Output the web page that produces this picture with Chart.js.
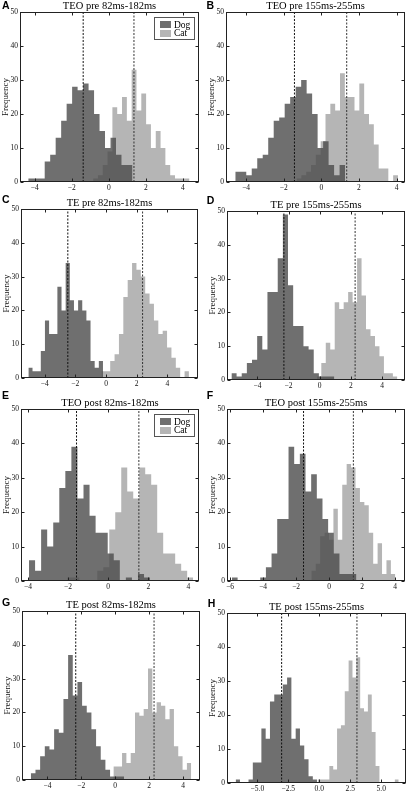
<!DOCTYPE html>
<html>
<head>
<meta charset="utf-8">
<script src="https://cdn.jsdelivr.net/npm/chart.js@4.4.1/dist/chart.umd.min.js"></script>
<style>
  body { margin: 0; background: #fff; width: 410px; height: 793px; position: relative; overflow: hidden; }
  canvas { position: absolute; }
  .letter { position: absolute; font: bold 10.5px "Liberation Sans", Arial, sans-serif; line-height: 10.5px; color: #000; }
  .legend { position: absolute; width: 39px; height: 21px; border: 1px solid #555; background: #fff;
            font: 9.5px "Liberation Serif", "DejaVu Serif", serif; color: #000; }
  .legend .sw { position: absolute; left: 5px; width: 11px; height: 7px; }
  .legend .lb { position: absolute; left: 19px; line-height: 10px; }
</style>
</head>
<body>
<script>
// Panel titles and letters
const titles = ['TEO pre 82ms-182ms', 'TEO pre 155ms-255ms', 'TE pre 82ms-182ms', 'TE pre 155ms-255ms',
                'TEO post 82ms-182ms', 'TEO post 155ms-255ms', 'TE post 82ms-182ms', 'TE post 155ms-255ms'];
const letters = ['A', 'B', 'C', 'D', 'E', 'F', 'G', 'H'];
const seriesNames = ['Dog', 'Cat'];

// Histogram counts per panel
const dogA = [1, 1, 1, 6, 8, 13, 18, 23, 28, 27, 29, 27, 20, 15, 10, 13, 8, 5, 5];
const catA = [1, 2, 5, 9, 22, 20, 25, 18, 33, 21, 26, 17, 10, 15, 10, 5, 2, 1, 1, 1];
const dogB = [3, 3, 2, 4, 7, 8, 13, 18, 19, 23, 25, 28, 30, 26, 20, 10, 12, 5, 2, 5];
const catB = [1, 2, 3, 5, 8, 12, 20, 23, 21, 32, 25, 25, 21, 29, 20, 17, 11, 4, 4, 0, 2];
const dogC = [3, 2, 2, 8, 17, 13, 13, 27, 20, 34, 23, 20, 23, 20, 17, 5, 3, 5];
const catC = [2, 2, 5, 7, 13, 24, 29, 34, 32, 30, 25, 22, 17, 13, 14, 9, 6, 3, 0, 2];
const dogD = [2, 1, 2, 5, 6, 13, 9, 26, 26, 36, 49, 28, 16, 16, 10, 9, 2, 1, 1, 1];
const catD = [1, 5, 11, 9, 23, 21, 23, 26, 23, 36, 25, 15, 13, 10, 7, 2, 2, 1];
const dogE = [6, 3, 15, 10, 17, 27, 32, 39, 24, 28, 19, 14, 14, 8, 6, 0, 1, 0, 2, 1];
const catE = [1, 1, 0, 0, 0, 3, 4, 15, 20, 33, 26, 24, 33, 31, 28, 14, 8, 8, 5, 3, 1];
const dogF = [1, 0, 0, 0, 0, 1, 4, 8, 18, 18, 39, 34, 37, 26, 31, 24, 18, 14, 8, 2, 2, 2];
const catF = [3, 5, 13, 14, 12, 21, 12, 28, 34, 33, 27, 23, 22, 14, 5, 11, 2, 6, 2];
const dogG = [2, 3, 7, 10, 9, 15, 14, 24, 37, 25, 29, 22, 20, 15, 10, 6, 3, 1, 1, 1];
const catG = [4, 4, 8, 5, 8, 20, 19, 21, 33, 20, 23, 22, 18, 21, 10, 7, 3, 5];
const dogH = [1, 0, 0, 1, 6, 6, 16, 13, 24, 26, 26, 29, 31, 13, 16, 11, 7, 2, 1];
const catH = [1, 1, 1, 5, 4, 16, 17, 27, 36, 31, 37, 22, 21, 26, 15, 5, 0, 0, 0, 0, 1];

const dogCounts = [dogA, dogB, dogC, dogD, dogE, dogF, dogG, dogH];
const catCounts = [catA, catB, catC, catD, catE, catF, catG, catH];

// Bin definitions (first edge, bin width) per panel
const dogStart = [-4.345, -4.577, -5.06, -5.665, -3.95, -5.89, -4.98, -6.75];
const dogWidth = [0.296, 0.292, 0.27, 0.33, 0.302, 0.343, 0.275, 0.346];
const catStart = [-0.844, -1.32, -0.30, -0.187, -2.04, -1.08, -0.108, -0.12];
const catWidth = [0.26, 0.257, 0.285, 0.287, 0.299, 0.268, 0.255, 0.311];

// Mean lines
const dogMean = [-1.38, -1.43, -2.49, -2.30, -1.58, -1.55, -2.33, -3.04];
const catMean = [1.36, 1.35, 2.38, 2.27, 1.53, 1.47, 2.29, 3.04];

// Axis ranges and ticks
const xMin = [-4.79, -5.07, -5.54, -5.95, -4.35, -6.19, -5.5, -7.45];
const xMax = [4.87, 4.45, 5.99, 5.47, 4.53, 4.6, 5.0, 7.0];
const xStep = [2, 2, 2, 2, 2, 2, 2, 2.5];
const yMax = 50;
const yStep = 10;

// Layout: plot area [left, top, right, bottom] in page pixels
const plotBoxes = [
  [20, 12, 199, 182], [226, 12, 405, 182],
  [21, 209, 198, 378], [227, 211, 405, 380],
  [21, 409, 199, 581], [227, 409, 405, 581],
  [22, 611, 200, 780], [227, 613, 406, 783]
];
const letterPos = [[2, 0.3], [206.5, 0.3], [2, 194], [206.7, 194.6], [2, 389.6], [206.7, 389.6], [2, 596.6], [207.7, 597.6]];
const legendPanels = [0, 4];

const dogColor = 'rgba(75, 75, 75, 0.8)';
const catColor = 'rgb(181, 181, 181)';
const serif = '"Liberation Serif", "DejaVu Serif", serif';

function histPoints(counts, start, width) {
  const pts = counts.map((c, i) => ({ x: start + i * width, y: c }));
  pts.push({ x: start + counts.length * width, y: counts[counts.length - 1] });
  return pts;
}

function minusSign(s) {
  return s.replace('-', '\u2212');
}

// Box frame with inward ticks, like the original figure
const framePlugin = {
  id: 'frame',
  afterDraw(chart) {
    const ctx = chart.ctx;
    const a = chart.chartArea;
    const l = Math.round(a.left) + 0.5, r = Math.round(a.right) - 0.5;
    const t = Math.round(a.top) + 0.5, b = Math.round(a.bottom) - 0.5;
    ctx.save();
    ctx.strokeStyle = '#222';
    ctx.lineWidth = 1;
    ctx.strokeRect(l, t, r - l, b - t);
    ctx.beginPath();
    chart.scales.x.ticks.forEach(tk => {
      const px = Math.round(chart.scales.x.getPixelForValue(tk.value)) + 0.5;
      ctx.moveTo(px, b); ctx.lineTo(px, b - 3);
      ctx.moveTo(px, t); ctx.lineTo(px, t + 3);
    });
    chart.scales.y.ticks.forEach(tk => {
      const py = Math.round(chart.scales.y.getPixelForValue(tk.value)) + 0.5;
      ctx.moveTo(l, py); ctx.lineTo(l + 3, py);
      ctx.moveTo(r, py); ctx.lineTo(r - 3, py);
    });
    ctx.stroke();
    ctx.restore();
  }
};

function buildPanel(i) {
  const [L, T, R, B] = plotBoxes[i];
  const canvas = document.createElement('canvas');
  const w = (R - L) + 24;
  const h = (B - T) + 13 + 12;
  canvas.width = w;
  canvas.height = h;
  canvas.style.left = (L - 21) + 'px';
  canvas.style.top = (T - 13) + 'px';
  canvas.style.width = w + 'px';
  canvas.style.height = h + 'px';
  document.body.appendChild(canvas);

  new Chart(canvas.getContext('2d'), {
    type: 'line',
    data: {
      datasets: [{
        label: 'Dog mean',
        data: [{ x: dogMean[i], y: 0 }, { x: dogMean[i], y: yMax }],
        borderColor: '#111',
        borderWidth: 1,
        borderDash: [2, 1.5],
        pointRadius: 0,
        fill: false,
        order: 0
      }, {
        label: 'Cat mean',
        data: [{ x: catMean[i], y: 0 }, { x: catMean[i], y: yMax }],
        borderColor: '#333',
        borderWidth: 1,
        borderDash: [2, 1.5],
        pointRadius: 0,
        fill: false,
        order: 0
      }, {
        label: seriesNames[0],
        data: histPoints(dogCounts[i], dogStart[i], dogWidth[i]),
        stepped: true,
        fill: 'origin',
        backgroundColor: dogColor,
        borderColor: 'rgba(0,0,0,0)',
        borderWidth: 0,
        pointRadius: 0,
        order: 1
      }, {
        label: seriesNames[1],
        data: histPoints(catCounts[i], catStart[i], catWidth[i]),
        stepped: true,
        fill: 'origin',
        backgroundColor: catColor,
        borderColor: 'rgba(0,0,0,0)',
        borderWidth: 0,
        pointRadius: 0,
        order: 2
      }]
    },
    options: {
      responsive: false,
      animation: false,
      events: [],
      layout: { padding: { left: 0, right: 3, top: 0, bottom: 0 } },
      plugins: {
        legend: { display: false },
        tooltip: { enabled: false },
        title: {
          display: true,
          text: titles[i],
          fullSize: false,
          color: '#000',
          font: { family: serif, size: 10.5, weight: 'normal', lineHeight: '11px' },
          padding: { top: 2, bottom: 0 }
        }
      },
      scales: {
        x: {
          type: 'linear',
          min: xMin[i],
          max: xMax[i],
          grid: { display: false, drawTicks: false },
          border: { display: false },
          afterFit(scale) { scale.height = 12; },
          ticks: {
            stepSize: xStep[i],
            includeBounds: false,
            maxRotation: 0,
            autoSkip: false,
            padding: 2,
            color: '#111',
            font: { family: serif, size: 7.5 },
            callback: v => minusSign(xStep[i] === 2.5 ? v.toFixed(1) : String(v))
          }
        },
        y: {
          min: 0,
          max: yMax,
          grid: { display: false, drawTicks: false },
          border: { display: false },
          afterFit(scale) { scale.width = 21; },
          title: {
            display: true,
            text: 'Frequency',
            color: '#111',
            font: { family: serif, size: 9, lineHeight: '10px' },
            padding: { top: 2, bottom: 0 }
          },
          ticks: {
            stepSize: yStep,
            padding: 2,
            color: '#111',
            font: { family: serif, size: 7.5 }
          }
        }
      }
    },
    plugins: [framePlugin]
  });

  const lt = document.createElement('div');
  lt.className = 'letter';
  lt.textContent = letters[i];
  lt.style.left = letterPos[i][0] + 'px';
  lt.style.top = letterPos[i][1] + 'px';
  document.body.appendChild(lt);

  if (legendPanels.includes(i)) {
    const lg = document.createElement('div');
    lg.className = 'legend';
    lg.style.left = (R - 45) + 'px';
    lg.style.top = (T + 5) + 'px';
    [dogColor, catColor].forEach((c, k) => {
      const sw = document.createElement('div');
      sw.className = 'sw';
      sw.style.background = c;
      sw.style.top = (3 + k * 8.5) + 'px';
      lg.appendChild(sw);
      const lb = document.createElement('div');
      lb.className = 'lb';
      lb.textContent = seriesNames[k];
      lb.style.top = (1.5 + k * 8.5) + 'px';
      lg.appendChild(lb);
    });
    document.body.appendChild(lg);
  }
}

for (let i = 0; i < titles.length; i++) {
  buildPanel(i);
}
</script>
</body>
</html>
